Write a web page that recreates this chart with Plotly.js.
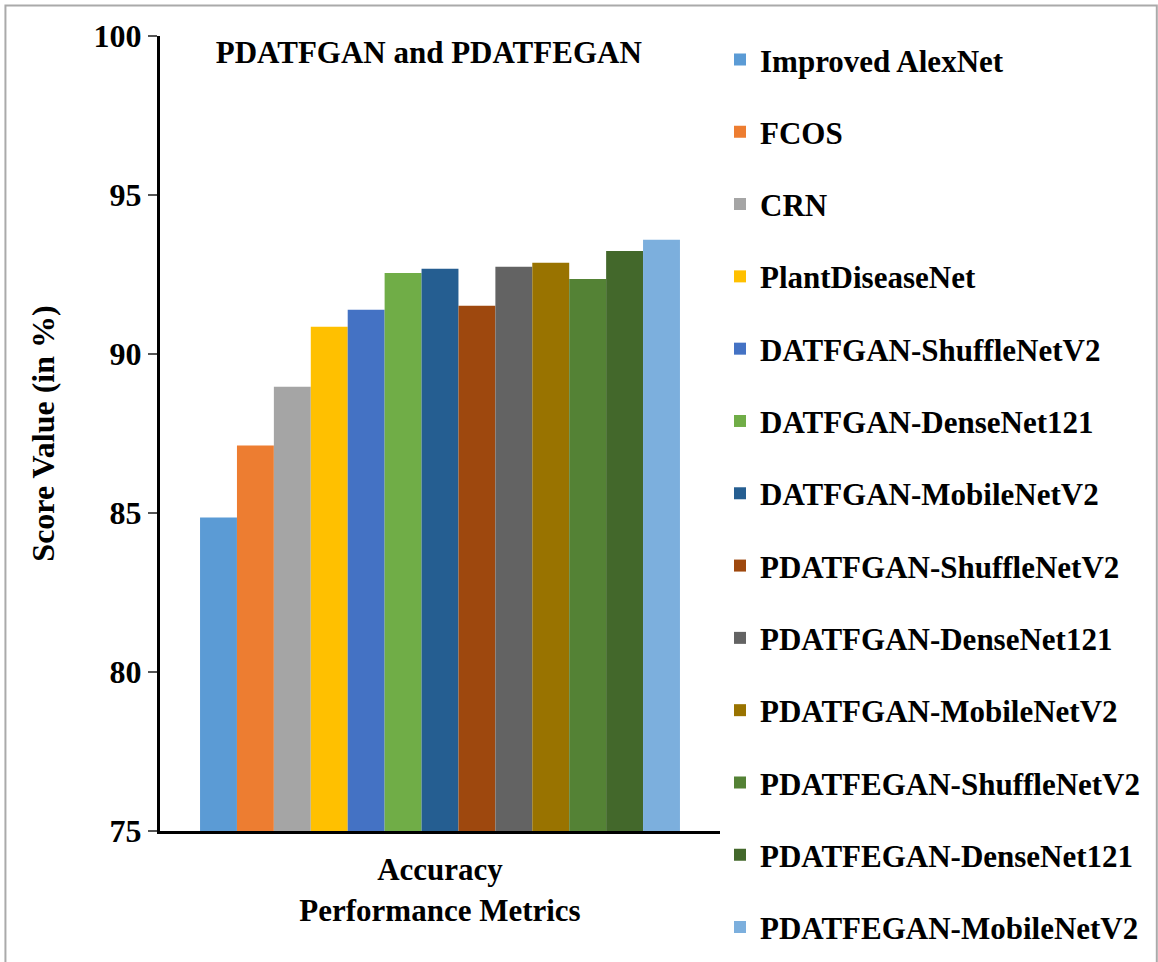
<!DOCTYPE html>
<html>
<head>
<meta charset="utf-8">
<script src="https://cdn.plot.ly/plotly-3.0.1.min.js"></script>
<style>
html,body{margin:0;padding:0;background:#fff;}
#chart{width:1158px;height:962px;}
</style>
</head>
<body>
<div id="chart"></div>
<script>
const categories = ['Accuracy'];
const models = [
  'Improved AlexNet','FCOS','CRN','PlantDiseaseNet',
  'DATFGAN-ShuffleNetV2','DATFGAN-DenseNet121','DATFGAN-MobileNetV2',
  'PDATFGAN-ShuffleNetV2','PDATFGAN-DenseNet121','PDATFGAN-MobileNetV2',
  'PDATFEGAN-ShuffleNetV2','PDATFEGAN-DenseNet121','PDATFEGAN-MobileNetV2'
];
const accuracy = [84.86, 87.12, 88.97, 90.86, 91.39, 92.55, 92.68, 91.52, 92.74, 92.87, 92.36, 93.24, 93.59];
const colors = ['#5B9BD5','#ED7D31','#A5A5A5','#FFC000','#4472C4','#70AD47','#255E91',
                '#9E480E','#636363','#997300','#548235','#43682B','#7CAFDD'];
const yTicks = [75, 80, 85, 90, 95, 100];

const FONT = '"Liberation Serif", "Times New Roman", serif';

const traces = models.map((m, i) => ({
  type: 'bar',
  name: m,
  x: categories,
  y: [accuracy[i]],
  marker: {color: colors[i]},
  legendgroup: 'g' + i,
  hoverinfo: 'name+y'
}));

const layout = {
  width: 1158, height: 962,
  margin: {l: 160, r: 438, t: 36, b: 131},
  paper_bgcolor: '#fff', plot_bgcolor: '#fff',
  font: {family: FONT, color: '#000', size: 31, weight: 'bold'},
  barmode: 'group',
  bargap: 0.143,
  bargroupgap: 0,
  title: {
    text: 'PDATFGAN and PDATFEGAN',
    font: {family: FONT, size: 31, color: '#000', weight: 'bold'},
    xref: 'paper', yref: 'paper', x: 0.48, xanchor: 'center', y: 0.98, yanchor: 'middle'
  },
  xaxis: {
    showline: true, linecolor: '#000', linewidth: 3,
    ticks: '', showgrid: false, ticklabelstandoff: 9,
    tickfont: {family: FONT, size: 31, color: '#000', weight: 'bold'},
    title: {text: 'Performance Metrics', font: {family: FONT, size: 31, color: '#000', weight: 'bold'}, standoff: 14}
  },
  yaxis: {
    range: [75, 100], tickvals: yTicks, ticktext: yTicks.map(String),
    showline: true, linecolor: '#000', linewidth: 3,
    ticks: 'outside', ticklen: 9, tickwidth: 2, tickcolor: '#555',
    showgrid: false, zeroline: false,
    tickfont: {family: FONT, size: 32, color: '#000', weight: 'bold'},
    title: {text: 'Score Value (in %)', font: {family: FONT, size: 32, color: '#000', weight: 'bold'}, standoff: 30}
  },
  legend: {
    x: 1.0, xanchor: 'left', y: 1.004, yanchor: 'top',
    traceorder: 'grouped', tracegroupgap: 29,
    maxheight: 962,
    font: {family: FONT, size: 31, color: '#000', weight: 'bold'},
    bgcolor: 'rgba(0,0,0,0)'
  },
  shapes: [{
    type: 'rect', xref: 'paper', yref: 'paper',
    x0: -0.276, x1: 1.780, y0: -0.2, y1: 1.0384,
    line: {color: '#AAAAAA', width: 2}
  }],
  showlegend: true
};

Plotly.newPlot('chart', traces, layout, {displayModeBar: false, staticPlot: true});
</script>
</body>
</html>
